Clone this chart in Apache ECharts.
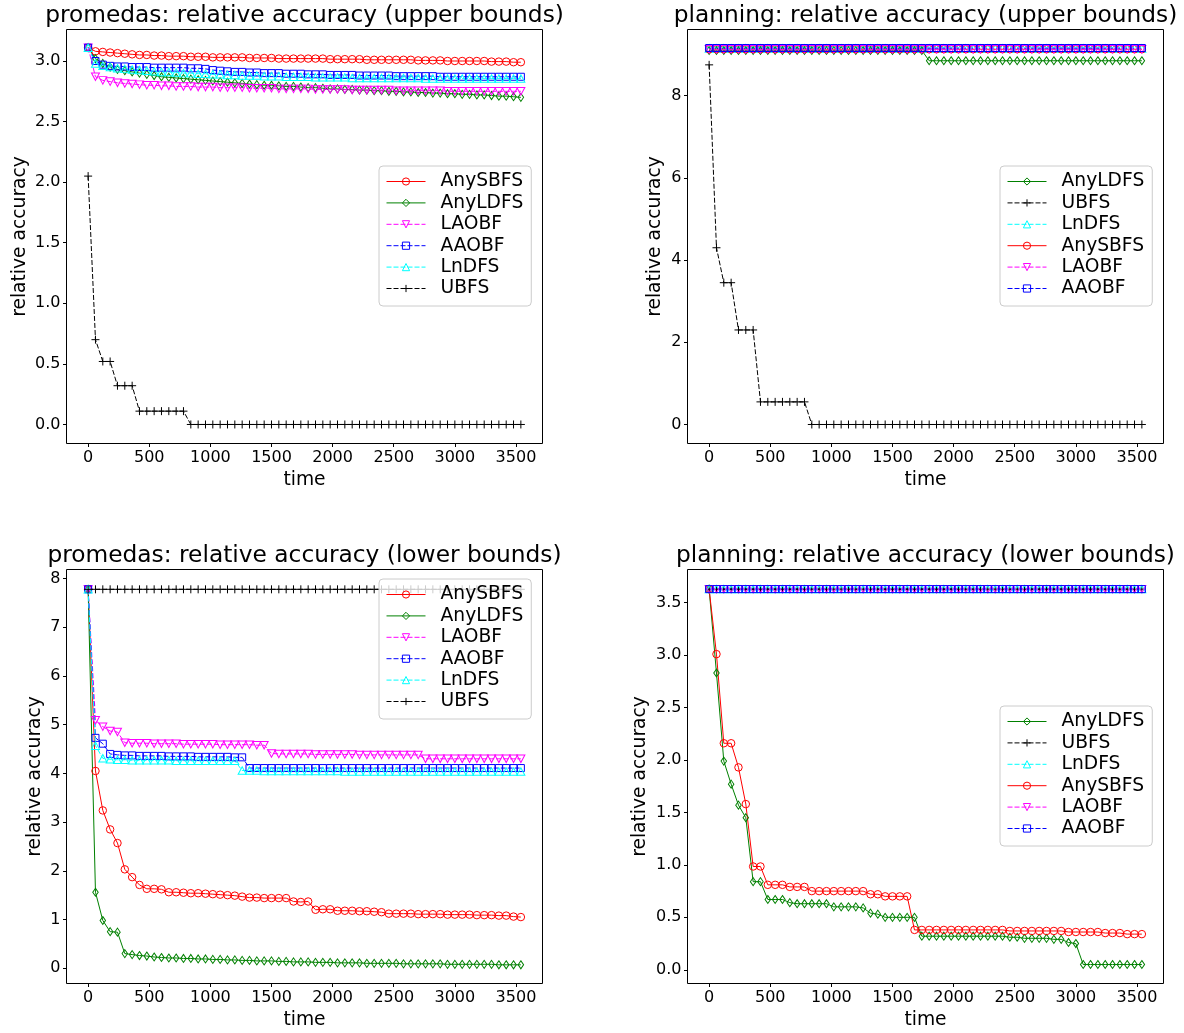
<!DOCTYPE html>
<html>
<head>
<meta charset="utf-8">
<script src="https://cdn.jsdelivr.net/npm/echarts@6/dist/echarts.min.js"></script>
<style>
html,body{margin:0;padding:0;background:#fff;}
#chart{width:1184px;height:1033px;}
</style>
</head>
<body>
<div id="chart"></div>
<script>
// ---------------- DATA ----------------
var times = [
  0, 60, 120, 180, 240, 300, 360, 420, 480, 540,
  600, 660, 720, 780, 840, 900, 960, 1020, 1080, 1140,
  1200, 1260, 1320, 1380, 1440, 1500, 1560, 1620, 1680, 1740,
  1800, 1860, 1920, 1980, 2040, 2100, 2160, 2220, 2280, 2340,
  2400, 2460, 2520, 2580, 2640, 2700, 2760, 2820, 2880, 2940,
  3000, 3060, 3120, 3180, 3240, 3300, 3360, 3420, 3480, 3540
];
var xTicks = [0, 500, 1000, 1500, 2000, 2500, 3000, 3500];

// promedas: relative accuracy (upper bounds)
var promUpTicks = [0, 0.5, 1.0, 1.5, 2.0, 2.5, 3.0];
var promUp_AnySBFS = [
  3.11, 3.08, 3.075, 3.07, 3.065, 3.06, 3.055, 3.05, 3.05, 3.045,
  3.045, 3.04, 3.04, 3.04, 3.035, 3.035, 3.035, 3.03, 3.03, 3.03,
  3.03, 3.03, 3.025, 3.025, 3.025, 3.025, 3.02, 3.02, 3.02, 3.02,
  3.02, 3.02, 3.02, 3.015, 3.015, 3.015, 3.015, 3.015, 3.01, 3.01,
  3.01, 3.01, 3.01, 3.01, 3.01, 3.005, 3.005, 3.005, 3.005, 3.0,
  3.0, 3.0, 3.0, 3.0, 3.0, 2.995, 2.995, 2.995, 2.99, 2.99
];
var promUp_AnyLDFS = [
  3.11, 3.02, 2.98, 2.95, 2.93, 2.92, 2.91, 2.9, 2.89, 2.88,
  2.87, 2.865, 2.86, 2.855, 2.85, 2.845, 2.84, 2.835, 2.83, 2.825,
  2.82, 2.815, 2.81, 2.805, 2.8, 2.8, 2.795, 2.79, 2.79, 2.785,
  2.78, 2.78, 2.775, 2.77, 2.77, 2.765, 2.765, 2.76, 2.76, 2.755,
  2.755, 2.75, 2.75, 2.745, 2.745, 2.74, 2.74, 2.735, 2.735, 2.73,
  2.73, 2.725, 2.725, 2.72, 2.72, 2.715, 2.71, 2.71, 2.705, 2.7
];
var promUp_LAOBF = [
  3.11, 2.87, 2.84, 2.83, 2.82, 2.815, 2.81, 2.805, 2.8, 2.8,
  2.795, 2.795, 2.79, 2.79, 2.79, 2.785, 2.785, 2.785, 2.78, 2.78,
  2.78, 2.78, 2.775, 2.775, 2.775, 2.775, 2.77, 2.77, 2.77, 2.77,
  2.77, 2.765, 2.765, 2.765, 2.765, 2.765, 2.76, 2.76, 2.76, 2.76,
  2.76, 2.76, 2.755, 2.755, 2.755, 2.755, 2.755, 2.755, 2.755, 2.75,
  2.75, 2.75, 2.75, 2.75, 2.75, 2.75, 2.75, 2.75, 2.75, 2.75
];
var promUp_AAOBF = [
  3.11, 3.0, 2.97, 2.96, 2.955, 2.955, 2.95, 2.95, 2.95, 2.945,
  2.945, 2.945, 2.945, 2.945, 2.94, 2.94, 2.935, 2.925, 2.92, 2.915,
  2.91, 2.91, 2.905, 2.905, 2.9, 2.9, 2.9, 2.895, 2.895, 2.895,
  2.89, 2.89, 2.89, 2.885, 2.885, 2.885, 2.885, 2.88, 2.88, 2.88,
  2.88, 2.88, 2.875, 2.875, 2.875, 2.875, 2.875, 2.875, 2.87, 2.87,
  2.87, 2.87, 2.87, 2.87, 2.87, 2.87, 2.87, 2.87, 2.87, 2.87
];
var promUp_LnDFS = [
  3.11, 2.98, 2.96, 2.95, 2.94, 2.935, 2.93, 2.925, 2.92, 2.915,
  2.91, 2.91, 2.905, 2.9, 2.9, 2.895, 2.895, 2.89, 2.89, 2.885,
  2.885, 2.88, 2.88, 2.88, 2.875, 2.875, 2.875, 2.87, 2.87, 2.87,
  2.87, 2.865, 2.865, 2.865, 2.865, 2.865, 2.86, 2.86, 2.86, 2.86,
  2.86, 2.86, 2.86, 2.86, 2.86, 2.86, 2.855, 2.855, 2.855, 2.855,
  2.855, 2.855, 2.855, 2.855, 2.855, 2.855, 2.855, 2.855, 2.855, 2.855
];
var promUp_UBFS = [
  2.05, 0.70, 0.52, 0.52, 0.32, 0.32, 0.32, 0.11, 0.11, 0.11,
  0.11, 0.11, 0.11, 0.11, 0, 0, 0, 0, 0, 0,
  0, 0, 0, 0, 0, 0, 0, 0, 0, 0,
  0, 0, 0, 0, 0, 0, 0, 0, 0, 0,
  0, 0, 0, 0, 0, 0, 0, 0, 0, 0,
  0, 0, 0, 0, 0, 0, 0, 0, 0, 0
];

// planning: relative accuracy (upper bounds)
var planUpTicks = [0, 2, 4, 6, 8];
var planUp_AnyLDFS = [
  9.1, 9.1, 9.1, 9.1, 9.1, 9.1, 9.1, 9.1, 9.1, 9.1,
  9.1, 9.1, 9.1, 9.1, 9.1, 9.1, 9.1, 9.1, 9.1, 9.1,
  9.1, 9.1, 9.1, 9.1, 9.1, 9.1, 9.1, 9.1, 9.1, 9.1,
  8.85, 8.85, 8.85, 8.85, 8.85, 8.85, 8.85, 8.85, 8.85, 8.85,
  8.85, 8.85, 8.85, 8.85, 8.85, 8.85, 8.85, 8.85, 8.85, 8.85,
  8.85, 8.85, 8.85, 8.85, 8.85, 8.85, 8.85, 8.85, 8.85, 8.85
];
var planUp_UBFS = [
  8.75, 4.30, 3.45, 3.45, 2.30, 2.30, 2.30, 0.55, 0.55, 0.55,
  0.55, 0.55, 0.55, 0.55, 0, 0, 0, 0, 0, 0,
  0, 0, 0, 0, 0, 0, 0, 0, 0, 0,
  0, 0, 0, 0, 0, 0, 0, 0, 0, 0,
  0, 0, 0, 0, 0, 0, 0, 0, 0, 0,
  0, 0, 0, 0, 0, 0, 0, 0, 0, 0
];
var planUp_LnDFS = [
  9.15, 9.15, 9.15, 9.15, 9.15, 9.15, 9.15, 9.15, 9.15, 9.15,
  9.15, 9.15, 9.15, 9.15, 9.15, 9.15, 9.15, 9.15, 9.15, 9.15,
  9.15, 9.15, 9.15, 9.15, 9.15, 9.15, 9.15, 9.15, 9.15, 9.15,
  9.15, 9.15, 9.15, 9.15, 9.15, 9.15, 9.15, 9.15, 9.15, 9.15,
  9.15, 9.15, 9.15, 9.15, 9.15, 9.15, 9.15, 9.15, 9.15, 9.15,
  9.15, 9.15, 9.15, 9.15, 9.15, 9.15, 9.15, 9.15, 9.15, 9.15
];
var planUp_AnySBFS = [
  9.13, 9.13, 9.13, 9.13, 9.13, 9.13, 9.13, 9.13, 9.13, 9.13,
  9.13, 9.13, 9.13, 9.13, 9.13, 9.13, 9.13, 9.13, 9.13, 9.13,
  9.13, 9.13, 9.13, 9.13, 9.13, 9.13, 9.13, 9.13, 9.13, 9.13,
  9.13, 9.13, 9.13, 9.13, 9.13, 9.13, 9.13, 9.13, 9.13, 9.13,
  9.13, 9.13, 9.13, 9.13, 9.13, 9.13, 9.13, 9.13, 9.13, 9.13,
  9.13, 9.13, 9.13, 9.13, 9.13, 9.13, 9.13, 9.13, 9.13, 9.13
];
var planUp_LAOBF = [
  9.13, 9.13, 9.13, 9.13, 9.13, 9.13, 9.13, 9.13, 9.13, 9.13,
  9.13, 9.13, 9.13, 9.13, 9.13, 9.13, 9.13, 9.13, 9.13, 9.13,
  9.13, 9.13, 9.13, 9.13, 9.13, 9.13, 9.13, 9.13, 9.13, 9.13,
  9.13, 9.13, 9.13, 9.13, 9.13, 9.13, 9.13, 9.13, 9.13, 9.13,
  9.13, 9.13, 9.13, 9.13, 9.13, 9.13, 9.13, 9.13, 9.13, 9.13,
  9.13, 9.13, 9.13, 9.13, 9.13, 9.13, 9.13, 9.13, 9.13, 9.13
];
var planUp_AAOBF = [
  9.16, 9.16, 9.16, 9.16, 9.16, 9.16, 9.16, 9.16, 9.16, 9.16,
  9.16, 9.16, 9.16, 9.16, 9.16, 9.16, 9.16, 9.16, 9.16, 9.16,
  9.16, 9.16, 9.16, 9.16, 9.16, 9.16, 9.16, 9.16, 9.16, 9.16,
  9.16, 9.16, 9.16, 9.16, 9.16, 9.16, 9.16, 9.16, 9.16, 9.16,
  9.16, 9.16, 9.16, 9.16, 9.16, 9.16, 9.16, 9.16, 9.16, 9.16,
  9.16, 9.16, 9.16, 9.16, 9.16, 9.16, 9.16, 9.16, 9.16, 9.16
];

// promedas: relative accuracy (lower bounds)
var promLoTicks = [0, 1, 2, 3, 4, 5, 6, 7, 8];
var promLo_AnySBFS = [
  7.78, 4.05, 3.24, 2.85, 2.57, 2.03, 1.87, 1.71, 1.63, 1.63,
  1.62, 1.56, 1.56, 1.55, 1.54, 1.54, 1.53, 1.52, 1.51, 1.50,
  1.49, 1.47, 1.45, 1.45, 1.44, 1.44, 1.44, 1.44, 1.37, 1.36,
  1.37, 1.20, 1.21, 1.21, 1.18, 1.18, 1.18, 1.17, 1.17, 1.16,
  1.15, 1.12, 1.12, 1.12, 1.12, 1.11, 1.11, 1.11, 1.11, 1.10,
  1.10, 1.10, 1.10, 1.09, 1.09, 1.09, 1.08, 1.08, 1.06, 1.05
];
var promLo_AnyLDFS = [
  7.78, 1.56, 0.98, 0.75, 0.74, 0.30, 0.28, 0.26, 0.25, 0.23,
  0.22, 0.21, 0.21, 0.20, 0.20, 0.19, 0.19, 0.18, 0.18, 0.17,
  0.17, 0.16, 0.16, 0.15, 0.15, 0.15, 0.14, 0.14, 0.13, 0.13,
  0.13, 0.12, 0.12, 0.12, 0.11, 0.11, 0.11, 0.11, 0.10, 0.10,
  0.10, 0.10, 0.10, 0.09, 0.09, 0.09, 0.09, 0.09, 0.09, 0.08,
  0.08, 0.08, 0.08, 0.08, 0.08, 0.08, 0.07, 0.07, 0.07, 0.07
];
var promLo_LAOBF = [
  7.78, 5.09, 4.96, 4.87, 4.85, 4.63, 4.62, 4.62, 4.62, 4.61,
  4.61, 4.61, 4.61, 4.60, 4.60, 4.60, 4.60, 4.60, 4.59, 4.59,
  4.59, 4.59, 4.59, 4.58, 4.58, 4.41, 4.40, 4.40, 4.40, 4.40,
  4.40, 4.39, 4.39, 4.39, 4.39, 4.39, 4.39, 4.38, 4.38, 4.38,
  4.38, 4.38, 4.38, 4.38, 4.38, 4.38, 4.30, 4.30, 4.30, 4.30,
  4.30, 4.30, 4.30, 4.30, 4.30, 4.30, 4.30, 4.30, 4.30, 4.30
];
var promLo_AAOBF = [
  7.78, 4.73, 4.61, 4.40, 4.38, 4.37, 4.37, 4.36, 4.36, 4.36,
  4.36, 4.35, 4.35, 4.35, 4.35, 4.34, 4.34, 4.34, 4.34, 4.34,
  4.33, 4.33, 4.11, 4.11, 4.11, 4.11, 4.11, 4.11, 4.11, 4.11,
  4.11, 4.11, 4.11, 4.11, 4.11, 4.11, 4.11, 4.11, 4.11, 4.11,
  4.11, 4.11, 4.11, 4.11, 4.11, 4.11, 4.11, 4.11, 4.11, 4.11,
  4.11, 4.11, 4.11, 4.11, 4.11, 4.11, 4.11, 4.11, 4.11, 4.11
];
var promLo_LnDFS = [
  7.78, 4.57, 4.31, 4.29, 4.28, 4.28, 4.27, 4.27, 4.27, 4.27,
  4.27, 4.27, 4.26, 4.26, 4.26, 4.26, 4.26, 4.26, 4.26, 4.26,
  4.26, 4.06, 4.06, 4.06, 4.05, 4.05, 4.05, 4.05, 4.05, 4.05,
  4.05, 4.05, 4.05, 4.05, 4.05, 4.04, 4.04, 4.04, 4.04, 4.04,
  4.04, 4.04, 4.04, 4.04, 4.04, 4.04, 4.04, 4.04, 4.04, 4.04,
  4.04, 4.04, 4.04, 4.04, 4.04, 4.04, 4.04, 4.04, 4.04, 4.04
];
var promLo_UBFS = [
  7.78, 7.78, 7.78, 7.78, 7.78, 7.78, 7.78, 7.78, 7.78, 7.78,
  7.78, 7.78, 7.78, 7.78, 7.78, 7.78, 7.78, 7.78, 7.78, 7.78,
  7.78, 7.78, 7.78, 7.78, 7.78, 7.78, 7.78, 7.78, 7.78, 7.78,
  7.78, 7.78, 7.78, 7.78, 7.78, 7.78, 7.78, 7.78, 7.78, 7.78,
  7.78, 7.78, 7.78, 7.78, 7.78, 7.78, 7.78, 7.78, 7.78, 7.78,
  7.78, 7.78, 7.78, 7.78, 7.78, 7.78, 7.78, 7.78, 7.78, 7.78
];

// planning: relative accuracy (lower bounds)
var planLoTicks = [0, 0.5, 1.0, 1.5, 2.0, 2.5, 3.0, 3.5];
var planLo_AnyLDFS = [
  3.63, 2.83, 1.99, 1.77, 1.57, 1.45, 0.84, 0.84, 0.67, 0.67,
  0.67, 0.64, 0.63, 0.63, 0.63, 0.63, 0.63, 0.60, 0.60, 0.60,
  0.60, 0.59, 0.54, 0.53, 0.50, 0.50, 0.50, 0.50, 0.50, 0.32,
  0.32, 0.32, 0.32, 0.32, 0.32, 0.32, 0.32, 0.32, 0.32, 0.32,
  0.32, 0.31, 0.31, 0.30, 0.30, 0.30, 0.30, 0.29, 0.29, 0.26,
  0.25, 0.05, 0.05, 0.05, 0.05, 0.05, 0.05, 0.05, 0.05, 0.05
];
var planLo_UBFS = [
  3.63, 3.63, 3.63, 3.63, 3.63, 3.63, 3.63, 3.63, 3.63, 3.63,
  3.63, 3.63, 3.63, 3.63, 3.63, 3.63, 3.63, 3.63, 3.63, 3.63,
  3.63, 3.63, 3.63, 3.63, 3.63, 3.63, 3.63, 3.63, 3.63, 3.63,
  3.63, 3.63, 3.63, 3.63, 3.63, 3.63, 3.63, 3.63, 3.63, 3.63,
  3.63, 3.63, 3.63, 3.63, 3.63, 3.63, 3.63, 3.63, 3.63, 3.63,
  3.63, 3.63, 3.63, 3.63, 3.63, 3.63, 3.63, 3.63, 3.63, 3.63
];
var planLo_LnDFS = planLo_UBFS.slice();
var planLo_AnySBFS = [
  3.63, 3.01, 2.16, 2.16, 1.93, 1.58, 0.985, 0.985, 0.81, 0.81,
  0.81, 0.79, 0.79, 0.79, 0.75, 0.75, 0.75, 0.75, 0.75, 0.75,
  0.75, 0.75, 0.72, 0.72, 0.70, 0.70, 0.70, 0.70, 0.38, 0.38,
  0.38, 0.38, 0.38, 0.38, 0.38, 0.38, 0.38, 0.38, 0.38, 0.38,
  0.38, 0.37, 0.37, 0.37, 0.37, 0.37, 0.37, 0.37, 0.37, 0.36,
  0.36, 0.36, 0.36, 0.36, 0.35, 0.35, 0.35, 0.34, 0.34, 0.34
];
var planLo_LAOBF = planLo_UBFS.slice();
var planLo_AAOBF = planLo_UBFS.slice();

// ---------------- STYLES ----------------
var FONT = "'DejaVu Sans', sans-serif";
var PLUS = 'path://M5,0 L5,10 M0,5 L10,5';
var NOFILL = 'rgba(255,255,255,0)';
var styleOf = {
  AnySBFS: {color: '#ff0000', dash: 'solid', symbol: 'circle', size: 7.5, rot: 0},
  AnyLDFS: {color: '#008000', dash: 'solid', symbol: 'diamond', size: [5.5, 8], rot: 0},
  LAOBF:   {color: '#ff00ff', dash: [5, 2], symbol: 'triangle', size: [8, 7.5], rot: 180},
  AAOBF:   {color: '#0000ff', dash: [5, 2], symbol: 'rect', size: 7, rot: 0},
  LnDFS:   {color: '#00ffff', dash: [5, 2], symbol: 'triangle', size: [8, 7.5], rot: 0},
  UBFS:    {color: '#000000', dash: [5, 2], symbol: PLUS, size: 8, rot: 0}
};

function mkSeries(name, idx, vals) {
  var s = styleOf[name];
  return {
    type: 'line', name: name, xAxisIndex: idx, yAxisIndex: idx,
    data: times.map(function (t, i) { return [t, vals[i]]; }),
    symbol: s.symbol, symbolSize: s.size, symbolRotate: s.rot,
    showSymbol: true, animation: false, silent: true, clip: false,
    lineStyle: {color: s.color, width: 1, type: s.dash},
    itemStyle: {color: NOFILL, borderColor: s.color, borderWidth: 1},
    emphasis: {disabled: true}
  };
}

var grids = [
  {left: 66.5, top: 29.5, width: 476, height: 414},
  {left: 687.5, top: 29.5, width: 476, height: 414},
  {left: 66.5, top: 569.5, width: 476, height: 414},
  {left: 687.5, top: 569.5, width: 476, height: 414}
];
var yCfg = [
  {min: -0.157, max: 3.26, ticks: promUpTicks, dec: 1, gap: 37},
  {min: -0.4625, max: 9.61, ticks: planUpTicks, dec: 0, gap: 23},
  {min: -0.314, max: 8.187, ticks: promLoTicks, dec: 0, gap: 22},
  {min: -0.131, max: 3.817, ticks: planLoTicks, dec: 1, gap: 38}
];
var titles = [
  'promedas: relative accuracy (upper bounds)',
  'planning: relative accuracy (upper bounds)',
  'promedas: relative accuracy (lower bounds)',
  'planning: relative accuracy (lower bounds)'
];

var order1 = ['AnySBFS', 'AnyLDFS', 'LAOBF', 'AAOBF', 'LnDFS', 'UBFS'];
var order2 = ['AnyLDFS', 'UBFS', 'LnDFS', 'AnySBFS', 'LAOBF', 'AAOBF'];
var seriesVals = [
  {AnySBFS: promUp_AnySBFS, AnyLDFS: promUp_AnyLDFS, LAOBF: promUp_LAOBF, AAOBF: promUp_AAOBF, LnDFS: promUp_LnDFS, UBFS: promUp_UBFS},
  {AnyLDFS: planUp_AnyLDFS, UBFS: planUp_UBFS, LnDFS: planUp_LnDFS, AnySBFS: planUp_AnySBFS, LAOBF: planUp_LAOBF, AAOBF: planUp_AAOBF},
  {AnySBFS: promLo_AnySBFS, AnyLDFS: promLo_AnyLDFS, LAOBF: promLo_LAOBF, AAOBF: promLo_AAOBF, LnDFS: promLo_LnDFS, UBFS: promLo_UBFS},
  {AnyLDFS: planLo_AnyLDFS, UBFS: planLo_UBFS, LnDFS: planLo_LnDFS, AnySBFS: planLo_AnySBFS, LAOBF: planLo_LAOBF, AAOBF: planLo_AAOBF}
];
var orders = [order1, order2, order1, order2];
var legendPos = [
  {left: 379, top: 166},
  {left: 1000, top: 166},
  {left: 379, top: 579},
  {left: 1000, top: 706}
];

var option = {
  backgroundColor: '#ffffff',
  animation: false,
  title: [], grid: [], xAxis: [], yAxis: [], legend: [], series: []
};

for (var g = 0; g < 4; g++) {
  var gr = grids[g];
  option.grid.push({
    left: gr.left, top: gr.top, width: gr.width, height: gr.height,
    show: true, borderColor: '#000', borderWidth: 1, backgroundColor: 'transparent'
  });
  option.title.push({
    text: titles[g], left: gr.left + gr.width / 2, top: gr.top - 25, textAlign: 'center',
    padding: 0,
    textStyle: {fontFamily: FONT, fontSize: 23.3, fontWeight: 'normal', color: '#000'}
  });
  option.xAxis.push({
    type: 'value', gridIndex: g, min: -177, max: 3717, position: 'bottom',
    name: 'time', nameLocation: 'middle', nameGap: 27,
    nameTextStyle: {fontFamily: FONT, fontSize: 18.7, color: '#000'},
    splitLine: {show: false},
    axisLine: {show: false, onZero: false},
    axisTick: {show: true, length: 3.5, customValues: xTicks, lineStyle: {color: '#000', width: 1}},
    axisLabel: {customValues: xTicks, fontFamily: FONT, fontSize: 16, color: '#000', margin: 6,
      formatter: function (v) { return String(v); }}
  });
  (function (yc) {
    option.yAxis.push({
      type: 'value', gridIndex: g, min: yc.min, max: yc.max, position: 'left',
      name: 'relative accuracy', nameLocation: 'middle', nameGap: yc.gap, nameRotate: 90,
      nameTextStyle: {fontFamily: FONT, fontSize: 18.7, color: '#000'},
      splitLine: {show: false},
      axisLine: {show: false, onZero: false},
      axisTick: {show: true, length: 3.5, customValues: yc.ticks, lineStyle: {color: '#000', width: 1}},
      axisLabel: {customValues: yc.ticks, fontFamily: FONT, fontSize: 16, color: '#000', margin: 6,
        formatter: function (v) { return Number(v).toFixed(yc.dec); }}
    });
  })(yCfg[g]);
  var ord = orders[g];
  for (var k = 0; k < ord.length; k++) {
    option.series.push(mkSeries(ord[k], g, seriesVals[g][ord[k]]));
  }
  option.legend.push({
    data: ord.map(function (n) {
      return {name: n, itemStyle: {color: NOFILL, borderColor: styleOf[n].color, borderWidth: 1}};
    }),
    orient: 'vertical',
    left: legendPos[g].left, top: legendPos[g].top,
    padding: [6, 8, 8, 7], itemGap: 2.4, itemWidth: 39, itemHeight: 9,
    backgroundColor: 'rgba(255,255,255,0.8)', borderColor: '#cccccc', borderWidth: 1, borderRadius: 4,
    selectedMode: false,
    lineStyle: {width: 1},
    textStyle: {fontFamily: FONT, fontSize: 18.7, color: '#000', lineHeight: 19, padding: [0, 0, 0, 10]}
  });
}

var chart = echarts.init(document.getElementById('chart'), null, {renderer: 'canvas'});
chart.setOption(option);
</script>
</body>
</html>
